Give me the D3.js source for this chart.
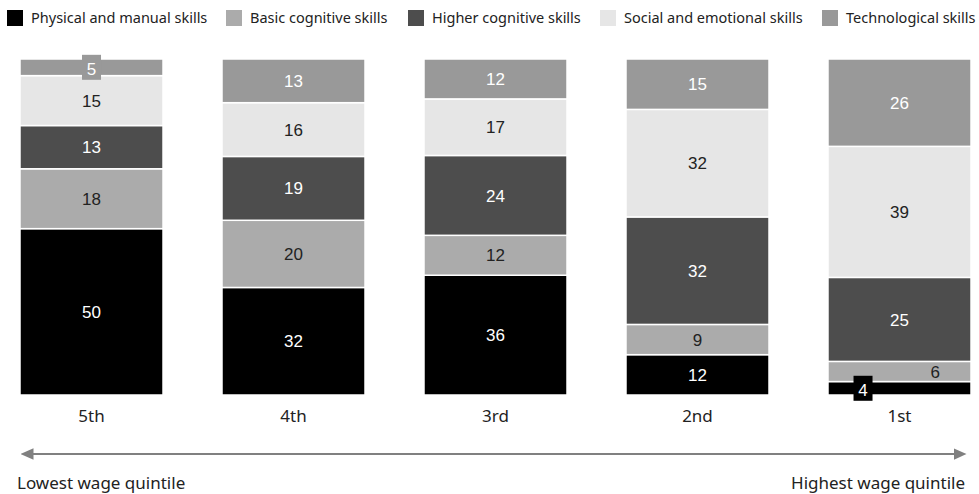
<!DOCTYPE html>
<html>
<head>
<meta charset="utf-8">
<script src="https://cdn.jsdelivr.net/npm/d3@7"></script>
<style>
  html, body { margin: 0; padding: 0; background: #fff; }
  svg { display: block; }
</style>
</head>
<body>
<svg id="chart" width="979" height="494"></svg>
<script>
// Wage quintiles, lowest to highest
const quintiles = ["5th", "4th", "3rd", "2nd", "1st"];
const skills = [
  "Physical and manual skills",
  "Basic cognitive skills",
  "Higher cognitive skills",
  "Social and emotional skills",
  "Technological skills"
];
// Share of hours by skill category (%), one array per skill, aligned with quintiles
const physical = [50, 32, 36, 12, 4];
const basicCog = [18, 20, 12, 9, 6];
const higherCog = [13, 19, 24, 32, 25];
const socialEmo = [15, 16, 17, 32, 39];
const techno = [5, 13, 12, 15, 26];

const fills = ["#000000", "#ababab", "#4d4d4d", "#e6e6e6", "#999999"];
const inks = ["#ffffff", "#222222", "#ffffff", "#222222", "#ffffff"];

const seriesValues = [physical, basicCog, higherCog, socialEmo, techno];
const rows = quintiles.map((q, i) => {
  const r = { quintile: q };
  skills.forEach((s, k) => { r[s] = seriesValues[k][i]; });
  return r;
});

const svg = d3.select("#chart");
const plotTop = 59, plotBottom = 395;

const x = d3.scaleBand().domain(quintiles).range([20, 971]).paddingInner(0.292).paddingOuter(0);
const y = d3.scaleLinear().domain([0, 1]).range([plotBottom, plotTop]);

const stack = d3.stack().keys(skills).offset(d3.stackOffsetExpand);
const layers = stack(rows);

// Stacked bars
const g = svg.append("g");
layers.forEach((layer, k) => {
  const lg = g.append("g");
  lg.selectAll("rect").data(layer).join("rect")
    .attr("x", d => x(d.data.quintile))
    .attr("width", x.bandwidth())
    .attr("y", d => y(d[1]))
    .attr("height", d => y(d[0]) - y(d[1]))
    .attr("fill", fills[k])
    .attr("stroke", "#ffffff")
    .attr("stroke-width", 1.5);
});

// Value labels (small segments get a tab behind the number)
const labelFont = "'Liberation Sans', Arial, sans-serif";
layers.forEach((layer, k) => {
  layer.forEach(d => {
    const v = d.data[skills[k]];
    const y0 = y(d[0]), y1 = y(d[1]);
    let cx = x(d.data.quintile) + x.bandwidth() / 2;
    let cy = (y0 + y1) / 2;
    const small = (y0 - y1) < 22;
    if (small && d.data.quintile === "1st" && k === 1) {
      cx = x(d.data.quintile) + x.bandwidth() * 0.75;
    }
    if (small && d.data.quintile === "1st" && k === 0) {
      cx = x(d.data.quintile) + x.bandwidth() * 0.245;
    }
    if (small && k !== 1) {
      const by = cy - 12.5;
      svg.append("rect")
        .attr("x", cx - 9.5).attr("y", by)
        .attr("width", 19).attr("height", 25)
        .attr("fill", fills[k]);
      cy = by + 14;
    }
    svg.append("text")
      .attr("x", cx).attr("y", cy)
      .attr("dy", "0.36em")
      .attr("text-anchor", "middle")
      .attr("font-family", labelFont)
      .attr("font-size", 17)
      .attr("fill", inks[k])
      .text(v);
  });
});

// Category labels
svg.append("g").selectAll("text").data(quintiles).join("text")
  .attr("x", d => x(d) + x.bandwidth() / 2)
  .attr("y", 422)
  .attr("text-anchor", "middle")
  .attr("font-family", "'Noto Sans', sans-serif")
  .attr("font-size", 17)
  .attr("fill", "#222")
  .text(d => d);

// Legend
const legendX = [7, 226, 408, 600, 822];
const legend = svg.append("g");
skills.forEach((s, k) => {
  legend.append("rect")
    .attr("x", legendX[k]).attr("y", 10)
    .attr("width", 16).attr("height", 16)
    .attr("fill", fills[k]);
  legend.append("text")
    .attr("x", legendX[k] + 24).attr("y", 23)
    .attr("font-family", "'Noto Sans', sans-serif")
    .attr("font-size", 14.5)
    .attr("fill", "#222")
    .text(s);
});

// Double-headed wage arrow
const defs = svg.append("defs");
["start", "end"].forEach(id => {
  defs.append("marker")
    .attr("id", "arrow-" + id)
    .attr("viewBox", "0 0 10 10")
    .attr("refX", 5).attr("refY", 5)
    .attr("markerWidth", 6.5).attr("markerHeight", 6.5)
    .attr("orient", id === "start" ? "auto-start-reverse" : "auto")
    .append("path")
    .attr("d", "M0,0.5 L10,5 L0,9.5 Z")
    .attr("fill", "#808080");
});
svg.append("line")
  .attr("x1", 27).attr("x2", 960)
  .attr("y1", 454).attr("y2", 454)
  .attr("stroke", "#808080")
  .attr("stroke-width", 2)
  .attr("marker-start", "url(#arrow-start)")
  .attr("marker-end", "url(#arrow-end)");

svg.append("text")
  .attr("x", 17).attr("y", 489)
  .attr("font-family", "'Noto Sans', sans-serif")
  .attr("font-size", 17)
  .attr("fill", "#222")
  .text("Lowest wage quintile");
svg.append("text")
  .attr("x", 965).attr("y", 489)
  .attr("text-anchor", "end")
  .attr("font-family", "'Noto Sans', sans-serif")
  .attr("font-size", 17)
  .attr("fill", "#222")
  .text("Highest wage quintile");
</script>
</body>
</html>
